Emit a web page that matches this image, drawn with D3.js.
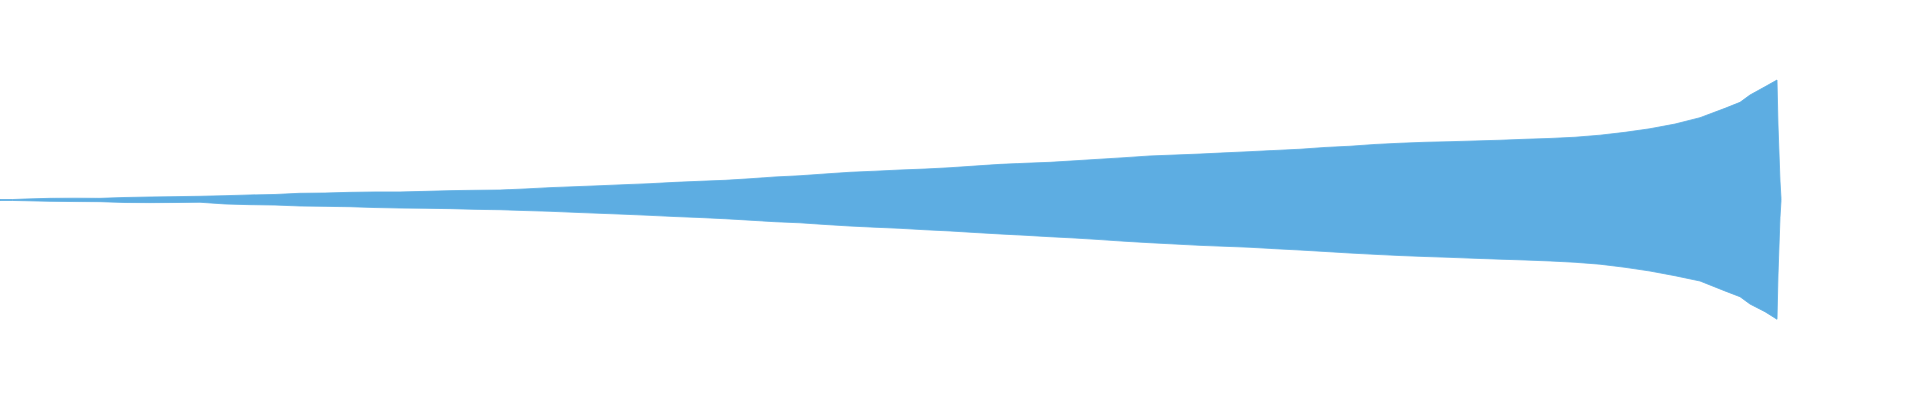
<!DOCTYPE html>
<html>
<head>
<meta charset="utf-8">
<script src="https://cdn.jsdelivr.net/npm/d3@7"></script>
<style>
  html, body { margin: 0; padding: 0; background: #ffffff; }
  svg { display: block; }
</style>
</head>
<body>
<svg id="chart" width="1920" height="400"></svg>
<script>
// Envelope of the waveform (seconds, normalized peak amplitude)
const time = [
  0, 0.5, 1, 2, 3, 4, 5, 6, 7, 8, 9,
  10, 11, 12, 13, 14, 15, 16, 17, 18, 19,
  20, 21, 22, 23, 24, 25, 26, 27, 28, 29,
  30, 31, 32, 33, 34, 35, 36, 37, 38, 39,
  40, 41, 42, 43, 44, 45, 46, 47, 48, 49,
  50, 51, 52, 53, 54, 55, 56, 57, 58, 59,
  60, 61, 62, 63, 64, 65, 66, 67, 68, 69,
  69.6, 70, 70.6, 71.08, 71.12, 71.2, 71.24
];
const maxAmp = [
  0.004, 0.004, 0.008, 0.014, 0.015, 0.014, 0.021, 0.025, 0.028, 0.031, 0.036,
  0.042, 0.046, 0.056, 0.058, 0.064, 0.067, 0.067, 0.072, 0.078, 0.081,
  0.083, 0.092, 0.103, 0.111, 0.119, 0.128, 0.136, 0.147, 0.156, 0.164,
  0.177, 0.192, 0.202, 0.217, 0.231, 0.240, 0.250, 0.258, 0.269, 0.283,
  0.297, 0.306, 0.314, 0.327, 0.340, 0.353, 0.367, 0.375, 0.383, 0.393,
  0.403, 0.413, 0.423, 0.438, 0.448, 0.463, 0.473, 0.481, 0.486, 0.492,
  0.498, 0.506, 0.513, 0.523, 0.540, 0.564, 0.594, 0.633, 0.686, 0.764,
  0.814, 0.875, 0.944, 1.000, 0.625, 0.158, 0.014
];
const minAmp = [
  -0.004, -0.004, -0.006, -0.011, -0.013, -0.014, -0.021, -0.022, -0.021, -0.019, -0.033,
  -0.039, -0.042, -0.050, -0.053, -0.056, -0.063, -0.067, -0.069, -0.072, -0.078,
  -0.081, -0.088, -0.094, -0.103, -0.111, -0.119, -0.128, -0.138, -0.146, -0.156,
  -0.168, -0.181, -0.190, -0.204, -0.217, -0.227, -0.236, -0.248, -0.258, -0.271,
  -0.283, -0.294, -0.306, -0.317, -0.330, -0.344, -0.356, -0.367, -0.378, -0.386,
  -0.394, -0.406, -0.417, -0.429, -0.442, -0.453, -0.463, -0.471, -0.478, -0.486,
  -0.493, -0.500, -0.508, -0.519, -0.535, -0.561, -0.592, -0.631, -0.675, -0.758,
  -0.806, -0.867, -0.931, -0.994, -0.625, -0.144, -0.006
];

const data = time.map((t, i) => ({ t, hi: maxAmp[i], lo: minAmp[i] }));

const svg = d3.select("#chart");

const x = d3.scaleLinear().domain([0, 71.2]).range([0, 1780]);
const y = d3.scaleLinear().domain([-1, 1]).range([320, 80]);

const area = d3.area()
  .x(d => x(d.t))
  .y0(d => y(d.lo))
  .y1(d => y(d.hi))
  .curve(d3.curveLinear);

svg.append("path")
  .datum(data)
  .attr("d", area)
  .attr("fill", "#5dade2")
  .attr("stroke", "#5dade2")
  .attr("stroke-width", 0.8)
  .attr("stroke-linejoin", "miter");
</script>
</body>
</html>
